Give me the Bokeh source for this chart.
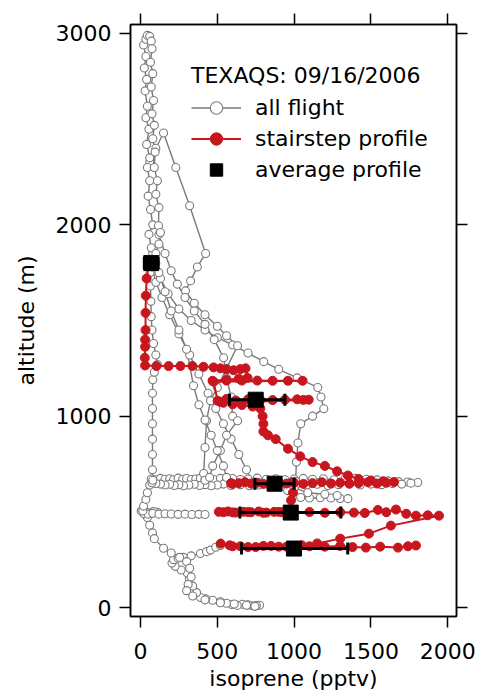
import numpy as np
from bokeh.plotting import figure
from bokeh.models import (ColumnDataSource, Range1d, LinearAxis, FixedTicker,
                          Legend, LegendItem, Whisker, TeeHead)
from bokeh.embed import file_html
from bokeh.resources import INLINE

NAN = float("nan")

# ---- all flight (isoprene pptv, altitude m); NaN separates flight legs ----
flight_x = [
    # take-off and low loop
    775, 755, 730, 700, 665, 630, 595, 560, 520, 470, 425, 391, 365, 340, 318, 305,
    265, 225, 205, 215, 245, 280, 330, 390, 430, 456, 490, 520, NAN,
    # landing leg
    20, 45, 60, 78, 90, 150, 200, 255, 300, 320, 330, 310, 300, 340, 420, 520, 610, 690, 745, NAN,
    # 490 m level, left part
    110, 85, 60, 35, 15, 5, 25, 50, 80, 120, 160, 200, 245, 290, 335, 380, 420, NAN,
    # climb from 490 m to 650 m
    15, 20, 35, 45, 60, 80, NAN,
    # 650 m level, upper row
    70, 100, 130, 160, 190, 215, 245, 275, 300, 330, 360, 390, 420, 450, 480, 520, 560,
    600, 650, 700, 760, 820, 880, 940, 1000, 1060, 1120, 1190, 1260, 1330, 1400, 1470,
    1540, 1610, 1680, 1740, 1805, NAN,
    # 650 m level, lower row
    1760, 1700, 1640, 1570, 1500, 1430, 1360, 1290, 1220, 1150, 1080, 1010, 950, 890,
    830, 770, 710, 650, 590, 540, 500, 460, 420, 385, 350, 315, 280, 250, 220, 190, 160,
    130, 100, 75, NAN,
    # short branch near 570 m
    958, 1000, 1043, 1100, 1170, 1239, 1300, 1350, 1280, 1200, 1089, 1000, NAN,
    # vertical climb on the left
    80, 78, 78, 78, 78, 78, 78, 80, 90, 110, 100, 85, 75, 70, 68, 65, 62, 60, NAN,
    # long diagonal
    737, 690, 640, 590, 540, 490, 440, 380, 320, 250, 190, 140, 100, 75, NAN,
    # right-hand loop
    1010, 1015, 1025, 1043, 1120, 1193, 1175, 1154, 1020, 900, 802, 700, 600, 500, 420,
    330, 250, 180, 130, 100, NAN,
    # high spike and descent
    60, 100, 150, 230, 320, 424, 370, 326, 293, 350, 420, 500, 560, 632, 560, 500, 456,
    430, 420, 411, 420, NAN,
    # fan leg 1
    120, 160, 200, 240, 290, 350, 420, 480, 541, 560, 590, 600, 632, 560, 520, 470, 450, NAN,
    # fan leg 2
    80, 120, 160, 200, 250, 300, 345, 380, 420, 460, 500, 540, 560, NAN,
    # upper bundle, climb
    60, 70, 55, 80, 65, 50, 60, 45, 60, 40, 55, 35, 45, 30, 40, 25, 35, 20, 35, 45,
    # upper bundle, descent
    60, 70, 75, 65, 80, 70, 85, 75, 90, 80, 95, 90, 110, 100, 120, 117, 130, 120, 100,
]
flight_alt = [
    12, 10, 9, 14, 17, 11, 16, 22, 30, 38, 46, 52, 78, 112, 150, 180,
    196, 215, 232, 250, 258, 262, 270, 282, 292, 300, 315, 324, NAN,
    495, 470, 430, 390, 360, 310, 285, 262, 240, 205, 160, 120, 88, 60, 40, 25, 18, 12, 6, NAN,
    498, 502, 495, 500, 498, 505, 490, 488, 492, 488, 490, 489, 487, 488, 486, 487, 486, NAN,
    505, 530, 565, 600, 640, 660, NAN,
    672, 668, 675, 670, 673, 668, 676, 670, 674, 669, 672, 676, 670, 673, 668, 675, 671,
    674, 669, 672, 676, 670, 673, 668, 672, 675, 670, 673, 668, 672, 675, 670,
    667, 662, 658, 656, 653, NAN,
    650, 645, 648, 642, 645, 640, 646, 642, 638, 644, 640, 637, 642, 639,
    644, 640, 636, 642, 638, 645, 640, 636, 642, 638, 644, 640, 636, 642, 638, 644, 640,
    645, 648, 652, NAN,
    611, 590, 575, 572, 574, 572, 570, 569, 585, 592, 600, 625, NAN,
    665, 720, 800, 880, 960, 1040, 1120, 1190, 1230, 1270, 1320, 1380, 1450, 1520, 1600,
    1680, 1750, 1800, NAN,
    640, 720, 800, 880, 960, 1040, 1120, 1220, 1320, 1430, 1530, 1620, 1700, 1780, NAN,
    660, 760, 860, 960, 1000, 1039, 1100, 1150, 1200, 1245, 1285, 1330, 1372, 1410, 1450,
    1500, 1560, 1640, 1720, 1800, NAN,
    2330, 2400, 2480, 2300, 2100, 1850, 1780, 1707, 1655, 1590, 1530, 1470, 1420, 1368,
    1250, 1150, 1081, 976, 836, 700, 665, NAN,
    1950, 1850, 1760, 1690, 1620, 1550, 1480, 1400, 1305, 1200, 1100, 1000, 976, 900, 820,
    740, 680, NAN,
    1850, 1750, 1650, 1550, 1450, 1350, 1159, 1060, 980, 900, 820, 740, 680, NAN,
    1800, 1880, 1950, 2000, 2080, 2150, 2230, 2300, 2350, 2420, 2500, 2560, 2620, 2700,
    2760, 2820, 2880, 2940, 2970, 2990,
    2985, 2960, 2920, 2850, 2790, 2720, 2650, 2580, 2520, 2450, 2380, 2300, 2230, 2160,
    2090, 1995, 1960, 1900, 1850,
]

# ---- stairstep profile ----
stair_x = [
    55, 40, 35, 33, 33, 30, 30, 28, 30, 104, 183, 260, 338, 410, 476, 521, 560, 606, 650,
    684, 697, 640, 560, 469, 560, 660, 760, 860, 960, 1055, 476,
    502, 520, 560, 620, 700, 780, 860, 940, 1020, 1060, 1095, 540,
    600, 660, 730, 780, 795, 800, 800, 830, 880, 960, 1040, 1120, 1200, 1280, 1350, 1420,
    1500, 1580, 1650, 1600, 1540, 1480, 1420, 1360, 1300, 1240, 1180, 1120, 1060, 1000,
    950, 900, 850, 800, 760, 720, 680, 640, 600, 590, 990,
    992, 980, 965, 920, 870, 820, 770, 720, 670, 620, 570, 540, 510, 600, 700, 800, 900,
    1000, 1100, 1200, 1300, 1389, 1460, 1545, 1600, 1663, 1730, 1793, 1870, 1943,
    1630, 1487, 1300, 1150, 1050, 950, 850, 750, 650, 580, 522, 600, 700, 800, 900, 1000,
    1100, 1200, 1300, 1380, 1467, 1560, 1676, 1741, 1793,
]
stair_alt = [
    1790, 1720, 1630, 1540, 1450, 1400, 1363, 1305, 1265, 1262, 1262, 1262, 1262, 1258,
    1255, 1250, 1245, 1240, 1246, 1250, 1200, 1196, 1190, 1185, 1186, 1186, 1186, 1185,
    1185, 1185, 1180,
    1081, 1075, 1090, 1082, 1088, 1085, 1084, 1086, 1088, 1085, 1086, 1070,
    1062, 1058, 1050, 1040, 1000, 960, 920, 900, 880, 830, 790, 760, 740, 712, 690, 672,
    664, 660, 656, 652, 648, 655, 650, 647, 652, 648, 655, 650, 646, 652,
    648, 655, 650, 646, 652, 648, 655, 650, 646, 650, 655,
    600, 560, 506, 498, 500, 496, 502, 498, 500, 496, 502, 498, 500, 497, 499, 495, 500,
    497, 499, 495, 498, 496, 494, 510, 498, 512, 490, 480, 482, 480,
    428, 386, 360, 335, 325, 318, 322, 316, 320, 325, 334, 320, 316, 322, 318, 316,
    320, 318, 322, 316, 313, 318, 313, 320, 324,
]

# ---- average profile ----
avg_x = [70, 750, 873, 978, 999]
avg_alt = [1800, 1086, 647, 496, 308]
avg_lo = [25, 580, 745, 647, 658]
avg_hi = [115, 940, 1000, 1304, 1349]

xticks = [0, 500, 1000, 1500, 2000]
yticks = [0, 1000, 2000, 3000]

FONT = "DejaVu Sans"
GRAY = "#7a7a7a"
RED = "#c8161e"

p = figure(width=479, height=695, output_backend="svg", toolbar_location=None,
           x_range=Range1d(-65, 2057), y_range=Range1d(-47, 3047),
           min_border_left=130, min_border_right=23, min_border_top=24,
           min_border_bottom=79)
p.grid.visible = False
p.outline_line_color = "black"
p.outline_line_width = 1.5
p.background_fill_color = "white"

fsrc = ColumnDataSource(dict(x=np.array(flight_x, float), y=np.array(flight_alt, float)))
fl_line = p.line("x", "y", source=fsrc, line_color=GRAY, line_width=1.4)
fl_pts = p.scatter("x", "y", source=fsrc, size=8, marker="circle", fill_color="white",
                   line_color=GRAY, line_width=1.1)

ssrc = ColumnDataSource(dict(x=stair_x, y=stair_alt))
st_line = p.line("x", "y", source=ssrc, line_color=RED, line_width=2)
st_pts = p.scatter("x", "y", source=ssrc, size=9, marker="circle", fill_color=RED,
                   line_color=RED)

asrc = ColumnDataSource(dict(x=avg_x, y=avg_alt, lo=avg_lo, hi=avg_hi))
w = Whisker(source=asrc, base="y", lower="lo", upper="hi", dimension="width",
            line_color="black", line_width=3, level="overlay",
            lower_head=TeeHead(size=12, line_width=3, line_color="black"),
            upper_head=TeeHead(size=12, line_width=3, line_color="black"))
p.add_layout(w)
av_pts = p.scatter("x", "y", source=asrc, size=15, marker="square", fill_color="black",
                   line_color="black")

legend = Legend(items=[LegendItem(label="all flight", renderers=[fl_line, fl_pts]),
                       LegendItem(label="stairstep profile", renderers=[st_line, st_pts]),
                       LegendItem(label="average profile", renderers=[av_pts])],
                title="TEXAQS: 09/16/2006", location=(61, 431),
                glyph_width=50, glyph_height=31, label_height=31, spacing=0,
                label_standoff=14, padding=0, margin=0, border_line_color=None,
                background_fill_alpha=0, title_standoff=4,
                label_text_font=FONT, label_text_font_size="22px",
                title_text_font=FONT, title_text_font_size="22px",
                title_text_font_style="normal", label_text_color="black",
                title_text_color="black")
p.add_layout(legend)

def style(ax, labels=True):
    ax.axis_line_color = "black"
    ax.axis_line_width = 1.5
    ax.major_tick_line_color = "black"
    ax.major_tick_line_width = 1.5
    ax.major_tick_out = 11
    ax.major_tick_in = 0
    ax.minor_tick_line_color = None
    ax.major_label_text_font = FONT
    if labels:
        ax.major_label_text_font_size = "22px"
        ax.major_label_text_color = "black"
    else:
        ax.major_label_text_font_size = "1px"
        ax.major_label_text_color = None
    ax.axis_label_text_font = FONT
    ax.axis_label_text_font_size = "22px"
    ax.axis_label_text_font_style = "normal"
    ax.axis_label_text_color = "black"

p.xaxis.ticker = FixedTicker(ticks=xticks)
p.yaxis.ticker = FixedTicker(ticks=yticks)
p.xaxis.axis_label = "isoprene (pptv)"
p.yaxis.axis_label = "altitude (m)"
style(p.xaxis[0])
style(p.yaxis[0])
p.xaxis.major_label_standoff = 15
p.yaxis.major_label_standoff = 8
p.xaxis.axis_label_standoff = 4
p.yaxis.axis_label_standoff = 14

top = LinearAxis(ticker=FixedTicker(ticks=xticks))
style(top, labels=False)
p.add_layout(top, "above")
right = LinearAxis(ticker=FixedTicker(ticks=yticks))
style(right, labels=False)
p.add_layout(right, "right")

open("out.html", "w").write(file_html(p, INLINE))
